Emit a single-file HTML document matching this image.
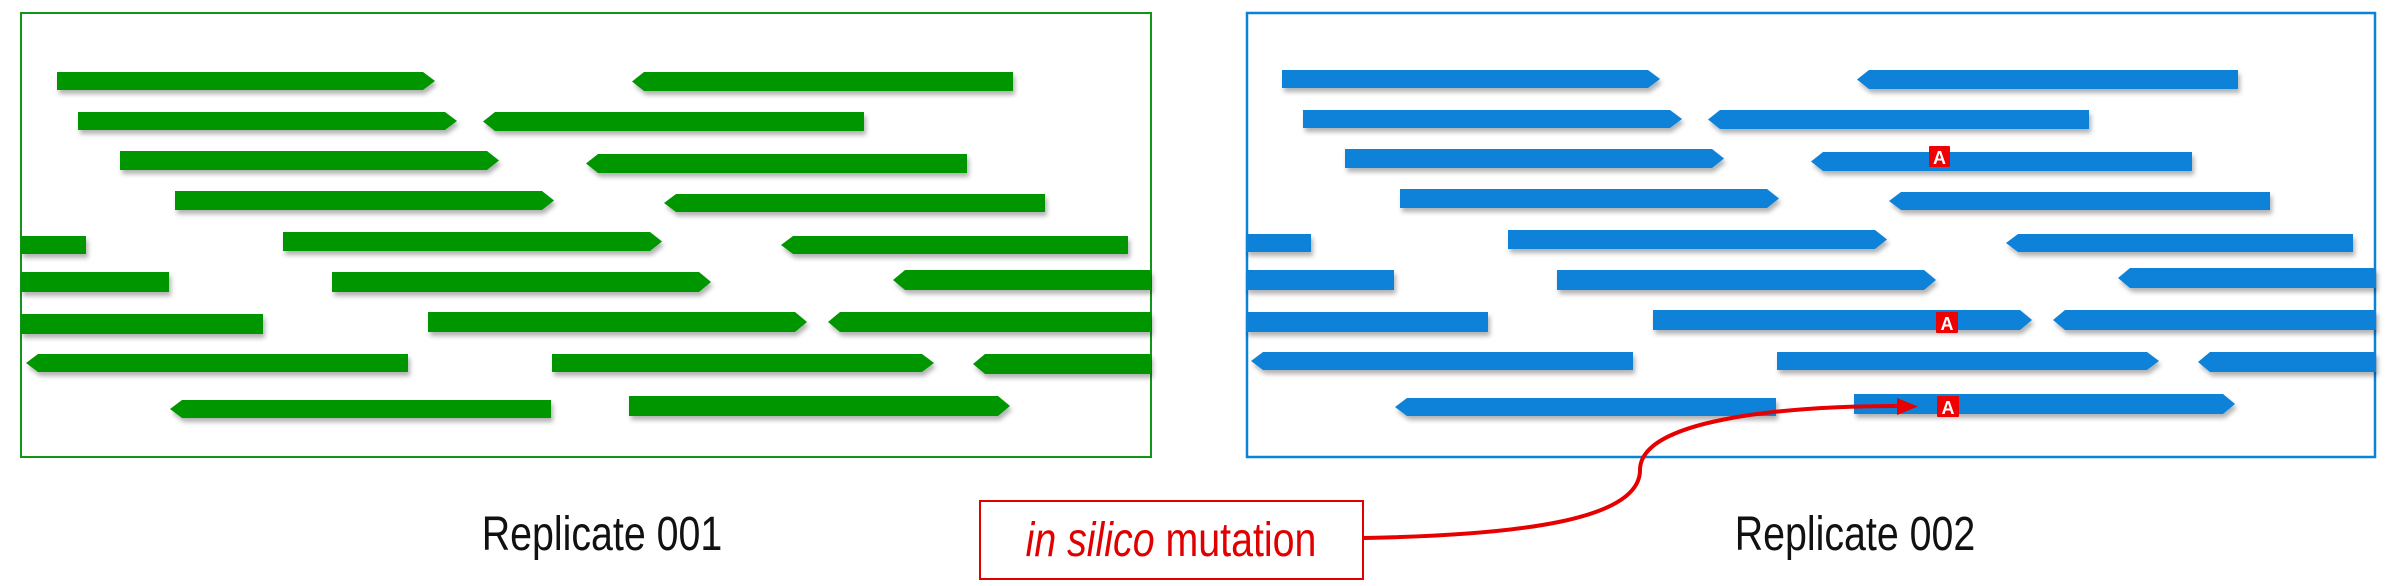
<!DOCTYPE html>
<html><head><meta charset="utf-8"><style>
html,body{margin:0;padding:0;background:#fff;width:2390px;height:586px;overflow:hidden}
svg{display:block}
</style></head><body>
<svg width="2390" height="586" viewBox="0 0 2390 586" xmlns="http://www.w3.org/2000/svg">
<defs>
<filter id="sh" x="-5%" y="-50%" width="110%" height="250%">
<feDropShadow dx="2" dy="4" stdDeviation="2.5" flood-color="#000" flood-opacity="0.3"/>
</filter>
<g id="bars">
<polygon points="57,72 423,72 435,81 423,90 57,90"/>
<polygon points="644,72 1013,72 1013,91 644,91 632,81.5"/>
<polygon points="78,112 445,112 457,121 445,130 78,130"/>
<polygon points="495,112 864,112 864,131 495,131 483,121.5"/>
<polygon points="120,151 487,151 499,160.5 487,170 120,170"/>
<polygon points="598,154 967,154 967,173 598,173 586,163.5"/>
<polygon points="175,191 542,191 554,200.5 542,210 175,210"/>
<polygon points="676,194 1045,194 1045,212 676,212 664,203"/>
<rect x="21" y="236" width="65" height="18"/>
<polygon points="283,232 650,232 662,241.5 650,251 283,251"/>
<polygon points="793,236 1128,236 1128,254 793,254 781,245"/>
<rect x="21" y="272" width="148" height="20"/>
<polygon points="332,272 699,272 711,282 699,292 332,292"/>
<polygon points="905,270 1151,270 1151,290 905,290 893,280"/>
<rect x="21" y="314" width="242" height="20"/>
<polygon points="428,312 795,312 807,322 795,332 428,332"/>
<polygon points="840,312 1151,312 1151,332 840,332 828,322"/>
<polygon points="38,354 408,354 408,372 38,372 26,363"/>
<polygon points="552,354 922,354 934,363 922,372 552,372"/>
<polygon points="985,354 1151,354 1151,374 985,374 973,364"/>
<polygon points="182,400 551,400 551,418 182,418 170,409"/>
<polygon points="629,396 998,396 1010,406 998,416 629,416"/>
</g>
</defs>
<rect x="21" y="13" width="1130" height="444" fill="none" stroke="#12961a" stroke-width="2"/>
<rect x="1247" y="13" width="1128" height="444" fill="none" stroke="#0a82d8" stroke-width="2.5"/>
<g fill="#029602" filter="url(#sh)"><use href="#bars"/></g>
<g fill="#0882d8" filter="url(#sh)" transform="translate(1225,-2)"><use href="#bars"/></g>
<g font-family="Liberation Sans, sans-serif" font-weight="bold" font-size="18" fill="#fff" text-anchor="middle">
<rect x="1929" y="146" width="21" height="21" fill="#f00000" rx="1"/><text x="1939.5" y="164">A</text>
<rect x="1936" y="312" width="22" height="21" fill="#f00000" rx="1"/><text x="1947" y="330">A</text>
<rect x="1937" y="396" width="22" height="21" fill="#f00000" rx="1"/><text x="1948" y="414">A</text>
</g>
<path d="M1364,538 C1520,535 1640,520 1640,470 C1640,420 1780,406 1900,406" fill="none" stroke="#e60000" stroke-width="4"/>
<polygon points="1897,398 1918,406.5 1897,415" fill="#e60000"/>
<rect x="980" y="501" width="383" height="78" fill="#fff" stroke="#e00000" stroke-width="2"/>
<g font-family="Liberation Sans, sans-serif" font-size="48">
<text transform="translate(1171,556) scale(0.82,1)" fill="#e00000" text-anchor="middle"><tspan font-style="italic">in silico</tspan> mutation</text>
<text transform="translate(602,550) scale(0.82,1)" fill="#111" text-anchor="middle">Replicate 001</text>
<text transform="translate(1855,550) scale(0.82,1)" fill="#111" text-anchor="middle">Replicate 002</text>
</g>
</svg>
</body></html>
